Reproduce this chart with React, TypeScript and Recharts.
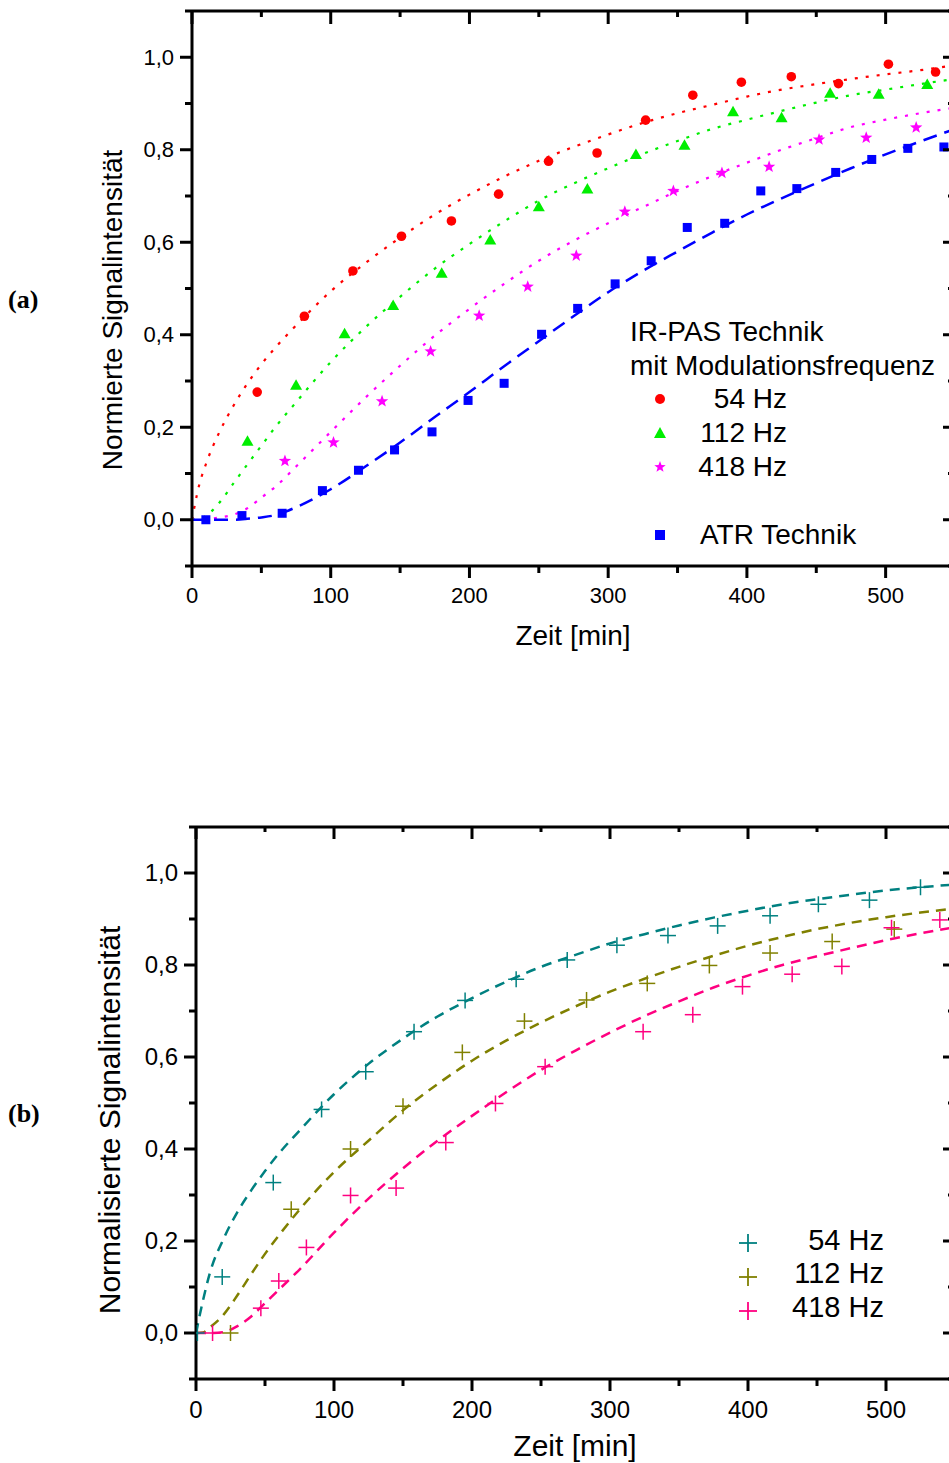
import React from 'react';
import { ComposedChart, Line, Scatter, XAxis, YAxis } from 'recharts';

// ---------- shared axis ticks ----------
const xTicks = [0, 50, 100, 150, 200, 250, 300, 350, 400, 450, 500, 550];
const yTicks = [-0.1, 0, 0.1, 0.2, 0.3, 0.4, 0.5, 0.6, 0.7, 0.8, 0.9, 1.0, 1.1];
const xDomain = [0, 550];
const yDomain = [-0.1, 1.1];

// ---------- panel (a): measured points ----------
const a54X = [47, 81, 116, 151, 187, 221, 257, 292, 327, 361, 396, 432, 466, 502, 536];
const a54Y = [0.276, 0.44, 0.538, 0.613, 0.646, 0.704, 0.775, 0.793, 0.864, 0.918, 0.946, 0.958, 0.943, 0.985, 0.968];
const a112X = [40, 75, 110, 145, 180, 215, 250, 285, 320, 355, 390, 425, 460, 495, 530];
const a112Y = [0.17, 0.291, 0.402, 0.463, 0.533, 0.605, 0.677, 0.715, 0.79, 0.81, 0.882, 0.869, 0.922, 0.92, 0.941];
const a418X = [67, 102, 137, 172, 207, 242, 277, 312, 347, 382, 416, 452, 486, 522];
const a418Y = [0.127, 0.167, 0.256, 0.364, 0.441, 0.504, 0.571, 0.666, 0.711, 0.75, 0.763, 0.822, 0.826, 0.848];
const atrX = [10, 36, 65, 94, 120, 146, 173, 199, 225, 252, 278, 305, 331, 357, 384, 410, 436, 464, 490, 516, 542];
const atrY = [0, 0.009, 0.014, 0.063, 0.107, 0.151, 0.19, 0.258, 0.295, 0.401, 0.457, 0.51, 0.56, 0.632, 0.641, 0.711, 0.716, 0.751, 0.779, 0.803, 0.806];

// ---------- fit curves ----------
const fitX = [0, 5, 10, 20, 30, 40, 50, 60, 75, 100, 125, 150, 175, 200, 225, 250, 275, 300, 325, 350, 375, 400, 425, 450, 475, 500, 525, 550];
const fitA54 = [0, 0.073, 0.12, 0.191, 0.247, 0.295, 0.336, 0.372, 0.42, 0.494, 0.555, 0.61, 0.66, 0.703, 0.742, 0.776, 0.806, 0.833, 0.858, 0.879, 0.897, 0.915, 0.93, 0.942, 0.953, 0.963, 0.972, 0.983];
const fitA112 = [0, 0.001, 0.008, 0.038, 0.079, 0.12, 0.16, 0.2, 0.254, 0.341, 0.416, 0.482, 0.543, 0.596, 0.645, 0.69, 0.727, 0.76, 0.791, 0.819, 0.845, 0.865, 0.884, 0.902, 0.918, 0.93, 0.942, 0.953];
const fitA418 = [0, 0, 0.001, 0.005, 0.011, 0.025, 0.048, 0.071, 0.115, 0.19, 0.264, 0.333, 0.398, 0.456, 0.51, 0.56, 0.603, 0.641, 0.676, 0.711, 0.743, 0.772, 0.8, 0.825, 0.849, 0.865, 0.879, 0.891];
const fitATR = [0, 0, 0, 0, 0, 0.002, 0.005, 0.01, 0.027, 0.066, 0.115, 0.167, 0.222, 0.276, 0.332, 0.386, 0.44, 0.492, 0.538, 0.58, 0.621, 0.66, 0.695, 0.728, 0.76, 0.79, 0.818, 0.845];

// ---------- panel (b): measured points ----------
const b54X = [1, 19, 56, 91, 123, 158, 195, 232, 269, 305, 342, 378, 416, 451, 488, 525];
const b54Y = [0, 0.122, 0.327, 0.486, 0.568, 0.655, 0.723, 0.769, 0.811, 0.843, 0.864, 0.885, 0.907, 0.932, 0.941, 0.969];
const b112X = [25, 69, 112, 150, 193, 238, 283, 327, 372, 416, 461, 506];
const b112Y = [0, 0.269, 0.4, 0.493, 0.61, 0.678, 0.724, 0.76, 0.799, 0.826, 0.851, 0.878];
const b418X = [12, 47, 60, 80, 112, 145, 181, 217, 253, 324, 360, 396, 432, 468, 504, 539];
const b418Y = [0, 0.054, 0.113, 0.186, 0.299, 0.315, 0.414, 0.499, 0.579, 0.655, 0.692, 0.753, 0.78, 0.797, 0.881, 0.898];

const fitB54 = [0, 0.07, 0.13, 0.205, 0.263, 0.31, 0.352, 0.39, 0.44, 0.519, 0.585, 0.64, 0.688, 0.728, 0.764, 0.796, 0.822, 0.847, 0.867, 0.886, 0.903, 0.918, 0.932, 0.943, 0.953, 0.962, 0.969, 0.975];
const fitB112 = [0, 0.001, 0.012, 0.04, 0.082, 0.128, 0.172, 0.212, 0.268, 0.35, 0.418, 0.484, 0.541, 0.592, 0.636, 0.675, 0.71, 0.742, 0.77, 0.796, 0.82, 0.842, 0.861, 0.878, 0.892, 0.904, 0.914, 0.923];
const fitB418 = [0, 0, 0, 0.002, 0.015, 0.036, 0.065, 0.094, 0.138, 0.218, 0.292, 0.358, 0.418, 0.472, 0.524, 0.572, 0.614, 0.653, 0.689, 0.721, 0.751, 0.777, 0.8, 0.819, 0.837, 0.854, 0.869, 0.882];

const zip = (xs: number[], ys: number[]) => xs.map((x, i) => ({ x, y: ys[i] }));

const FONT = '"Liberation Sans", Arial, sans-serif';
const SERIF = '"Liberation Serif", "Times New Roman", serif';
const fmt = (v: number) => v.toFixed(1).replace('.', ',');
const isMajorY = (v: number) => Math.round(v * 10) % 2 === 0;
const isMajorX = (v: number) => v % 100 === 0;

// ---------- tick renderers ----------
const makeBottomTick = (fs: number, off: number) => (p: any) => {
  const v = p.payload.value;
  const major = isMajorX(v);
  return (
    <g>
      <line x1={p.x} y1={p.y} x2={p.x} y2={p.y + (major ? 12 : 7)} stroke="#000" strokeWidth={3} />
      {major && v <= 500 && (
        <text x={p.x} y={p.y + off} dy="0.35em" textAnchor="middle" fontSize={fs} fontFamily={FONT} fill="#000">
          {v}
        </text>
      )}
    </g>
  );
};
const makeTopTick = (maj: number, min: number) => (p: any) => {
  const v = p.payload.value;
  const major = isMajorX(v);
  return <line x1={p.x} y1={p.y} x2={p.x} y2={p.y + (major ? maj : min)} stroke="#000" strokeWidth={3} />;
};
const makeLeftTick = (fs: number) => (p: any) => {
  const v = p.payload.value;
  const major = isMajorY(v);
  return (
    <g>
      <line x1={p.x - (major ? 12 : 7)} y1={p.y} x2={p.x} y2={p.y} stroke="#000" strokeWidth={3} />
      {major && (
        <text x={p.x - 18} y={p.y} dy="0.35em" textAnchor="end" fontSize={fs} fontFamily={FONT} fill="#000">
          {fmt(v)}
        </text>
      )}
    </g>
  );
};
const RightTick = (p: any) => {
  const v = p.payload.value;
  const major = isMajorY(v);
  return <line x1={p.x - (major ? 12 : 7)} y1={p.y} x2={p.x} y2={p.y} stroke="#000" strokeWidth={3} />;
};

// ---------- marker shapes ----------
const circleShape = (color: string) => (p: any) => <circle cx={p.cx} cy={p.cy} r={4.8} fill={color} />;
const triShape = (color: string) => (p: any) => (
  <polygon points={`${p.cx},${p.cy - 6} ${p.cx + 6},${p.cy + 4.5} ${p.cx - 6},${p.cy + 4.5}`} fill={color} />
);
const starPts = (cx: number, cy: number, R: number, r: number) => {
  const pts: string[] = [];
  for (let i = 0; i < 10; i++) {
    const a = -Math.PI / 2 + (i * Math.PI) / 5;
    const rad = i % 2 === 0 ? R : r;
    pts.push(`${cx + rad * Math.cos(a)},${cy + rad * Math.sin(a)}`);
  }
  return pts.join(' ');
};
const starShape = (color: string) => (p: any) => <polygon points={starPts(p.cx, p.cy, 6.5, 2.7)} fill={color} />;
const squareShape = (color: string) => (p: any) => <rect x={p.cx - 4.5} y={p.cy - 4.5} width={9} height={9} fill={color} />;
const plusShape = (color: string) => (p: any) => (
  <g stroke={color} strokeWidth={1.5}>
    <line x1={p.cx - 8} y1={p.cy} x2={p.cx + 8} y2={p.cy} />
    <line x1={p.cx} y1={p.cy - 8} x2={p.cx} y2={p.cy + 8} />
  </g>
);

const RED = '#ff0000';
const GREEN = '#00ee00';
const MAGENTA = '#ff00ff';
const BLUE = '#0000ff';
const TEAL = '#008080';
const OLIVE = '#808000';
const PINK = '#ff0080';

const axisLine = { stroke: '#000', strokeWidth: 3 };

function PanelA() {
  return (
    <ComposedChart width={980} height={700} margin={{ top: 0, right: 0, bottom: 0, left: 0 }}>
      <XAxis xAxisId="b" orientation="bottom" type="number" dataKey="x" domain={xDomain} ticks={xTicks} interval={0}
        height={134} tickSize={0} tickMargin={0} tickLine={false} axisLine={axisLine} tick={makeBottomTick(22, 29)} allowDataOverflow />
      <XAxis xAxisId="t" orientation="top" type="number" dataKey="x" domain={xDomain} ticks={xTicks} interval={0}
        height={11} tickSize={0} tickMargin={0} tickLine={false} axisLine={axisLine} tick={makeTopTick(13, 6)} allowDataOverflow />
      <YAxis yAxisId="l" orientation="left" type="number" dataKey="y" domain={yDomain} ticks={yTicks} interval={0}
        width={192} tickSize={0} tickMargin={0} tickLine={false} axisLine={axisLine} tick={makeLeftTick(22)} allowDataOverflow />
      <YAxis yAxisId="r" orientation="right" type="number" domain={yDomain} ticks={yTicks} interval={0}
        width={25} tickSize={0} tickMargin={0} tickLine={false} axisLine={axisLine} tick={RightTick} allowDataOverflow />

      <Line xAxisId="b" yAxisId="l" data={zip(fitX, fitA54)} dataKey="y" type="monotone" stroke={RED} strokeWidth={2.2} strokeDasharray="3 8" dot={false} isAnimationActive={false} />
      <Line xAxisId="b" yAxisId="l" data={zip(fitX, fitA112)} dataKey="y" type="monotone" stroke={GREEN} strokeWidth={2.2} strokeDasharray="3 8" dot={false} isAnimationActive={false} />
      <Line xAxisId="b" yAxisId="l" data={zip(fitX, fitA418)} dataKey="y" type="monotone" stroke={MAGENTA} strokeWidth={2.2} strokeDasharray="3 8" dot={false} isAnimationActive={false} />
      <Line xAxisId="b" yAxisId="l" data={zip(fitX, fitATR)} dataKey="y" type="monotone" stroke={BLUE} strokeWidth={2.5} strokeDasharray="14 8" dot={false} isAnimationActive={false} />

      <Scatter xAxisId="b" yAxisId="l" data={zip(a54X, a54Y)} dataKey="y" shape={circleShape(RED)} isAnimationActive={false} />
      <Scatter xAxisId="b" yAxisId="l" data={zip(a112X, a112Y)} dataKey="y" shape={triShape(GREEN)} isAnimationActive={false} />
      <Scatter xAxisId="b" yAxisId="l" data={zip(a418X, a418Y)} dataKey="y" shape={starShape(MAGENTA)} isAnimationActive={false} />
      <Scatter xAxisId="b" yAxisId="l" data={zip(atrX, atrY)} dataKey="y" shape={squareShape(BLUE)} isAnimationActive={false} />

      <g fontFamily={FONT} fill="#000">
        <text x={573} y={645} textAnchor="middle" fontSize={28}>Zeit [min]</text>
        <text transform="translate(122,310) rotate(-90)" textAnchor="middle" fontSize={28}>Normierte Signalintensität</text>
        <text x={630} y={341} fontSize={28}>IR-PAS Technik</text>
        <text x={630} y={375} fontSize={28}>mit Modulationsfrequenz</text>
        <text x={787} y={408} fontSize={28} textAnchor="end">54 Hz</text>
        <text x={787} y={442} fontSize={28} textAnchor="end">112 Hz</text>
        <text x={787} y={476} fontSize={28} textAnchor="end">418 Hz</text>
        <text x={700} y={544} fontSize={28}>ATR Technik</text>
      </g>
      <circle cx={660} cy={399} r={5} fill={RED} />
      <polygon points="660,427 666,438 654,438" fill={GREEN} />
      <polygon points={starPts(660, 467, 6, 2.5)} fill={MAGENTA} />
      <rect x={655} y={530} width={10} height={10} fill={BLUE} />
      <text x={8} y={308} fontSize={26} fontWeight="bold" fontFamily={SERIF} fill="#000">(a)</text>
    </ComposedChart>
  );
}

function PanelB() {
  return (
    <ComposedChart width={980} height={663} margin={{ top: 0, right: 0, bottom: 0, left: 0 }}>
      <XAxis xAxisId="b" orientation="bottom" type="number" dataKey="x" domain={xDomain} ticks={xTicks} interval={0}
        height={84} tickSize={0} tickMargin={0} tickLine={false} axisLine={axisLine} tick={makeBottomTick(24, 31)} allowDataOverflow />
      <XAxis xAxisId="t" orientation="top" type="number" dataKey="x" domain={xDomain} ticks={xTicks} interval={0}
        height={27} tickSize={0} tickMargin={0} tickLine={false} axisLine={axisLine} tick={makeTopTick(12, 5)} allowDataOverflow />
      <YAxis yAxisId="l" orientation="left" type="number" dataKey="y" domain={yDomain} ticks={yTicks} interval={0}
        width={196} tickSize={0} tickMargin={0} tickLine={false} axisLine={axisLine} tick={makeLeftTick(24)} allowDataOverflow />
      <YAxis yAxisId="r" orientation="right" type="number" domain={yDomain} ticks={yTicks} interval={0}
        width={25} tickSize={0} tickMargin={0} tickLine={false} axisLine={axisLine} tick={RightTick} allowDataOverflow />

      <Line xAxisId="b" yAxisId="l" data={zip(fitX, fitB54)} dataKey="y" type="monotone" stroke={TEAL} strokeWidth={2.5} strokeDasharray="10 7" dot={false} isAnimationActive={false} />
      <Line xAxisId="b" yAxisId="l" data={zip(fitX, fitB112)} dataKey="y" type="monotone" stroke={OLIVE} strokeWidth={2.5} strokeDasharray="10 7" dot={false} isAnimationActive={false} />
      <Line xAxisId="b" yAxisId="l" data={zip(fitX, fitB418)} dataKey="y" type="monotone" stroke={PINK} strokeWidth={2.5} strokeDasharray="10 7" dot={false} isAnimationActive={false} />

      <Scatter xAxisId="b" yAxisId="l" data={zip(b54X, b54Y)} dataKey="y" shape={plusShape(TEAL)} isAnimationActive={false} />
      <Scatter xAxisId="b" yAxisId="l" data={zip(b112X, b112Y)} dataKey="y" shape={plusShape(OLIVE)} isAnimationActive={false} />
      <Scatter xAxisId="b" yAxisId="l" data={zip(b418X, b418Y)} dataKey="y" shape={plusShape(PINK)} isAnimationActive={false} />

      <g fontFamily={FONT} fill="#000">
        <text x={575} y={656} textAnchor="middle" fontSize={30}>Zeit [min]</text>
        <text transform="translate(120,320) rotate(-90)" textAnchor="middle" fontSize={30}>Normalisierte Signalintensität</text>
        <text x={884} y={450} fontSize={29} textAnchor="end">54 Hz</text>
        <text x={884} y={483} fontSize={29} textAnchor="end">112 Hz</text>
        <text x={884} y={517} fontSize={29} textAnchor="end">418 Hz</text>
      </g>
      <g strokeWidth={1.8}>
        <line x1={739} y1={443} x2={757} y2={443} stroke={TEAL} />
        <line x1={748} y1={434} x2={748} y2={452} stroke={TEAL} />
        <line x1={739} y1={477} x2={757} y2={477} stroke={OLIVE} />
        <line x1={748} y1={468} x2={748} y2={486} stroke={OLIVE} />
        <line x1={739} y1={511} x2={757} y2={511} stroke={PINK} />
        <line x1={748} y1={502} x2={748} y2={520} stroke={PINK} />
      </g>
      <text x={8} y={322} fontSize={26} fontWeight="bold" fontFamily={SERIF} fill="#000">(b)</text>
    </ComposedChart>
  );
}

export default function App() {
  return (
    <div style={{ position: 'fixed', left: 0, top: 0, width: 949, height: 1463, overflow: 'hidden', background: '#fff' }}>
      <div style={{ position: 'absolute', left: 0, top: 0 }}>
        <PanelA />
      </div>
      <div style={{ position: 'absolute', left: 0, top: 800 }}>
        <PanelB />
      </div>
    </div>
  );
}
